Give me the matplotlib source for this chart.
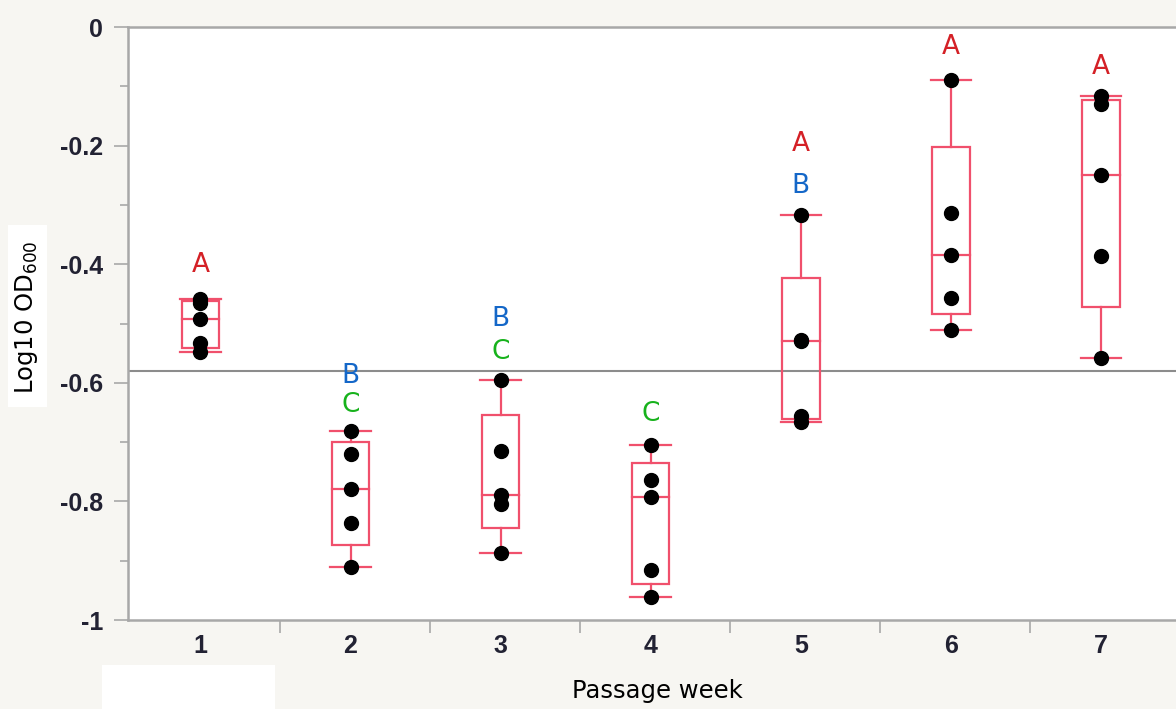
#!/usr/bin/env python3
# -*- coding: utf-8 -*-
"""
Box plot of log10 OD600 per passage week, with points and letter groups.
"""

import numpy as np
import matplotlib
matplotlib.use("Agg")
import matplotlib.pyplot as plt
from matplotlib.patches import Rectangle

# data (5 replicates per week)
weeks = [1, 2, 3, 4, 5, 6, 7]
week_values = [
    [-0.458, -0.465, -0.492, -0.533, -0.548],
    [-0.681, -0.720, -0.779, -0.836, -0.911],
    [-0.595, -0.715, -0.789, -0.804, -0.887],
    [-0.705, -0.764, -0.793, -0.916, -0.961],
    [-0.317, -0.528, -0.530, -0.656, -0.666],
    [-0.089, -0.314, -0.384, -0.457, -0.511],
    [-0.116, -0.130, -0.250, -0.386, -0.558],
]
grand_mean = -0.580

# letter groups: (week, label, y position, colour key)
letters = [
    (1, "A", -0.402, "red"),
    (2, "B", -0.588, "blue"),
    (2, "C", -0.638, "green"),
    (3, "B", -0.493, "blue"),
    (3, "C", -0.548, "green"),
    (4, "C", -0.653, "green"),
    (5, "A", -0.198, "red"),
    (5, "B", -0.268, "blue"),
    (6, "A", -0.034, "red"),
    (7, "A", -0.068, "red"),
]
letter_colors = {"red": "#d42026", "blue": "#1467c8", "green": "#17b21c"}

BOX = "#f0506c"
BG = "#f7f6f2"
AXC = "#a8a8a8"


def box_stats(vals):
    # JMP style quantiles ((n+1)p positions)
    v = np.sort(np.asarray(vals))
    q1, med, q3 = np.percentile(v, [25, 50, 75], method="weibull")
    iqr = q3 - q1
    lo = v[v >= q1 - 1.5 * iqr].min()
    hi = v[v <= q3 + 1.5 * iqr].max()
    return q1, med, q3, lo, hi


fig = plt.figure(figsize=(11.76, 7.09), dpi=100, facecolor=BG)
ax = fig.add_axes([0.1088, 0.1255, 0.8912, 0.8364])
ax.set_facecolor("white")

bw = 0.25
cw = 0.27
for wk, vals in zip(weeks, week_values):
    q1, med, q3, lo, hi = box_stats(vals)
    ax.add_patch(Rectangle((wk - bw / 2, q1), bw, q3 - q1, fill=False,
                           edgecolor=BOX, lw=1.6, zorder=3))
    ax.plot([wk - bw / 2, wk + bw / 2], [med, med], color=BOX, lw=1.6, zorder=3)
    ax.plot([wk, wk], [q3, hi], color=BOX, lw=1.6, zorder=3)
    ax.plot([wk, wk], [lo, q1], color=BOX, lw=1.6, zorder=3)
    ax.plot([wk - cw / 2, wk + cw / 2], [hi, hi], color=BOX, lw=1.6, zorder=3)
    ax.plot([wk - cw / 2, wk + cw / 2], [lo, lo], color=BOX, lw=1.6, zorder=3)
    ax.plot([wk] * len(vals), vals, "o", color="black", ms=10, zorder=4)

ax.axhline(grand_mean, color="#8c8c8c", lw=1.5, zorder=2)

for wk, lab, yy, ck in letters:
    ax.text(wk, yy, lab, color=letter_colors[ck], fontsize=19,
            ha="center", va="center", family="DejaVu Sans", zorder=5)

ax.set_xlim(0.517, 7.5)
ax.set_ylim(-1.0, 0.0)

ax.set_yticks([0, -0.2, -0.4, -0.6, -0.8, -1])
ax.set_yticklabels(["0", "-0.2", "-0.4", "-0.6", "-0.8", "-1"])
ax.set_yticks([-0.1, -0.3, -0.5, -0.7, -0.9], minor=True)
ax.set_xticks(weeks)
ax.set_xticklabels([str(w) for w in weeks])
ax.set_xticks([1.53, 2.53, 3.53, 4.53, 5.53, 6.53], minor=True)

ax.tick_params(axis="y", which="major", length=10, width=1.2, color=AXC, pad=8,
               labelsize=18, labelcolor="#222233")
ax.tick_params(axis="y", which="minor", length=6, width=1.2, color=AXC)
ax.tick_params(axis="x", which="major", length=0, pad=10, labelsize=18,
               labelcolor="#222233")
ax.tick_params(axis="x", which="minor", length=9, width=1.2, color=AXC)
for t in ax.get_xticklabels() + ax.get_yticklabels():
    t.set_family("Liberation Sans")
    t.set_fontweight("bold")

for side in ["left", "bottom", "top"]:
    ax.spines[side].set_color(AXC)
    ax.spines[side].set_linewidth(1.8)
ax.spines["right"].set_visible(False)

# white patches behind the axis titles
fig.patches.append(Rectangle((8 / 1176, 1 - 407 / 709), 39 / 1176, 182 / 709,
                             transform=fig.transFigure, facecolor="white",
                             edgecolor="none", zorder=0))
fig.patches.append(Rectangle((102 / 1176, 0), 173 / 1176, 44 / 709,
                             transform=fig.transFigure, facecolor="white",
                             edgecolor="none", zorder=0))

fig.text(27 / 1176, 1 - 317 / 709, r"Log10 OD$_{600}$", rotation=90,
         ha="center", va="center", fontsize=17.5, family="DejaVu Sans")
fig.text(657 / 1176, 1 - 691 / 709, "Passage week", ha="center", va="center",
         fontsize=17.5, family="DejaVu Sans")

fig.savefig("out.png", dpi=100, facecolor=BG)
